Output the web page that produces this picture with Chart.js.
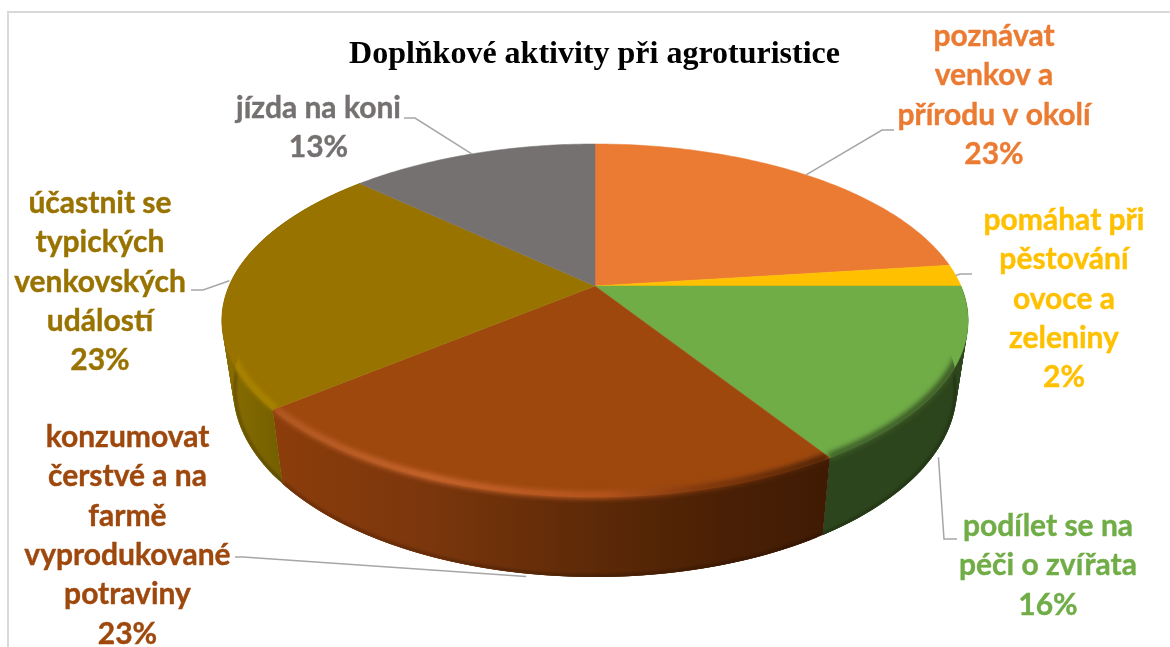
<!DOCTYPE html>
<html lang="cs">
<head>
<meta charset="utf-8">
<title>Doplňkové aktivity při agroturistice</title>
<script src="https://cdn.jsdelivr.net/npm/chart.js@4"></script>
<style>
    html, body { margin: 0; padding: 0; background: #fff; overflow: hidden; }
    #chart-wrap { width: 1170px; height: 647px; }
</style>
</head>
<body>
<div id="chart-wrap"><canvas id="pie-chart" width="1170" height="647"></canvas></div>
<script>
// Data
const categories = [
    'poznávat venkov a přírodu v okolí',
    'pomáhat při pěstování ovoce a zeleniny',
    'podílet se na péči o zvířata',
    'konzumovat čerstvé a na farmě vyprodukované potraviny',
    'účastnit se typických venkovských událostí',
    'jízda na koni'
];
const shares = [23, 2, 16, 23, 23, 13];
const sliceColors = ['#EB7B32', '#FFC000', '#70AD47', '#9E480E', '#997300', '#767171'];
const chartTitle = 'Doplňkové aktivity při agroturistice';

// Wrapped label text, one list per category
const labelLines = [
    ['poznávat', 'venkov a', 'přírodu v okolí'],
    ['pomáhat při', 'pěstování', 'ovoce a', 'zeleniny'],
    ['podílet se na', 'péči o zvířata'],
    ['konzumovat', 'čerstvé a na', 'farmě', 'vyprodukované', 'potraviny'],
    ['účastnit se', 'typických', 'venkovských', 'událostí'],
    ['jízda na koni']
];

// Label placement: centre x, first baseline, leader anchor plane + nudge, leader elbow + end
const labelLayout = [
    { x: 994, y: 46, plane: 'top', nudge: [0, 0], leader: [[882, 130], [894, 130]] },
    { x: 1064, y: 230, plane: 'top', nudge: [0, 0], leader: [[960, 274], [972, 274]] },
    { x: 1048, y: 536, plane: 'bottom', nudge: [0, 9], leader: [[944, 539], [957, 539]] },
    { x: 127.5, y: 447, plane: 'bottom', nudge: [0, 3], leader: [[243, 557], [235, 557]] },
    { x: 100, y: 213, plane: 'top', nudge: [-2, 0], leader: [[203, 290], [191, 290]] },
    { x: 318.5, y: 118, plane: 'top', nudge: [0, 0], leader: [[415, 118], [404, 118]] }
];

// Perspective of the disc: the slices meet at (cx, cy), near edge is drawn larger
const PERSPECTIVE = 0.1955;
const topPlane = { cx: 595, cy: 286, r: 366, a: 169.8 };
const bottomPlane = { cx: 595, cy: 352, r: 355, a: 181 };

// Side wall shading by x position
const wallStops = {
    2: [[826, '#2D451C'], [965, '#2D451C']],
    3: [[275, '#8C3D0B'], [430, '#7A360C'], [600, '#5C2907'], [720, '#4A2005'], [826, '#401B04']],
    4: [[222, '#8A6D00'], [280, '#746000']]
};

// Bevelled rim on the top face
const rimStops = {
    2: { stops: [[826, '#3F5F29'], [965, '#3A5625']], width: 7, blur: 2.5, inset: 0.995, from: 100 },
    3: { stops: [[275, '#B35A24'], [430, '#C8662E'], [600, '#B8561F'], [700, '#7E370C'], [826, '#4A2106']], width: 7, blur: 2.5, inset: 0.993 },
    4: { stops: [[222, '#A88300'], [280, '#A88300']], width: 7, blur: 2, inset: 0.992, upTo: 300 }
};

// Turn an angle (radians, clockwise from 12 o'clock) into a point on a plane
function project(theta, plane, scale) {
    const u = Math.sin(theta) * (scale || 1);
    const v = -Math.cos(theta) * (scale || 1);
    const s = 1 / (1 - PERSPECTIVE * v);
    return [plane.cx + plane.r * u * s, plane.cy + plane.a * v * s];
}

function sampleArc(from, to, plane, scale) {
    const points = [];
    const steps = Math.max(2, Math.ceil(Math.abs(to - from) / (Math.PI / 180)));
    for (let i = 0; i <= steps; i++) {
        points.push(project(from + (to - from) * i / steps, plane, scale));
    }
    return points;
}

function tracePolygon(ctx, points) {
    ctx.beginPath();
    points.forEach((p, i) => i ? ctx.lineTo(p[0], p[1]) : ctx.moveTo(p[0], p[1]));
    ctx.closePath();
}

function makeGradient(ctx, stops) {
    const x0 = stops[0][0];
    const x1 = stops[stops.length - 1][0];
    const gradient = ctx.createLinearGradient(x0, 0, x1, 0);
    stops.forEach(s => gradient.addColorStop((s[0] - x0) / (x1 - x0), s[1]));
    return gradient;
}

// Draws the slices from the pie arcs, so angles come from Chart.js
const pie3dPlugin = {
    id: 'pie3d',
    beforeDatasetsDraw(chart) {
        const ctx = chart.ctx;
        const arcs = chart.getDatasetMeta(0).data;
        const angles = arcs.map(arc => [arc.startAngle + Math.PI / 2, arc.endAngle + Math.PI / 2]);

        // Chart frame
        ctx.save();
        ctx.strokeStyle = '#D9D9D9';
        ctx.lineWidth = 2;
        ctx.beginPath();
        ctx.moveTo(8, 647);
        ctx.lineTo(8, 12);
        ctx.lineTo(1170, 12);
        ctx.stroke();
        ctx.restore();

        // Side walls first, the top face covers the far part
        angles.forEach((range, i) => {
            if (!wallStops[i]) return;
            const top = sampleArc(range[0], range[1], topPlane);
            const bottom = sampleArc(range[0], range[1], bottomPlane);
            ctx.fillStyle = makeGradient(ctx, wallStops[i]);
            // One overlapping quad per sample, so the outline follows the tangent between both rims
            for (let n = 0; n < top.length - 1; n++) {
                const next = Math.min(n + 3, top.length - 1);
                tracePolygon(ctx, [top[n], top[next], bottom[next], bottom[n]]);
                ctx.fill();
            }
            // Slightly darker foot of the wall
            ctx.save();
            tracePolygon(ctx, top.concat(bottom.slice().reverse()));
            ctx.clip();
            ctx.filter = 'blur(1px)';
            ctx.strokeStyle = 'rgba(0,0,0,0.22)';
            ctx.lineWidth = 3;
            ctx.beginPath();
            sampleArc(range[0], range[1], bottomPlane, 0.995).forEach((p, n) => n ? ctx.lineTo(p[0], p[1]) : ctx.moveTo(p[0], p[1]));
            ctx.stroke();
            ctx.restore();
        });

        // Top face
        angles.forEach((range, i) => {
            const outline = [[topPlane.cx, topPlane.cy]].concat(sampleArc(range[0], range[1], topPlane));
            tracePolygon(ctx, outline);
            ctx.fillStyle = sliceColors[i];
            ctx.strokeStyle = sliceColors[i];
            ctx.lineWidth = 0.5;
            ctx.fill();
            ctx.stroke();
        });

        // Rim highlight and shadow, kept inside its own slice and wall
        angles.forEach((range, i) => {
            const rim = rimStops[i];
            if (!rim) return;
            const clip = [[topPlane.cx, topPlane.cy]]
                .concat([project(range[0], topPlane)])
                .concat(sampleArc(range[0], range[1], bottomPlane))
                .concat([project(range[1], topPlane)]);
            const start = rim.from ? rim.from * Math.PI / 180 : range[0];
            const end = rim.upTo ? rim.upTo * Math.PI / 180 : range[1];
            ctx.save();
            tracePolygon(ctx, clip);
            ctx.clip();
            ctx.filter = 'blur(' + rim.blur + 'px)';
            ctx.strokeStyle = makeGradient(ctx, rim.stops);
            ctx.lineWidth = rim.width;
            ctx.beginPath();
            sampleArc(start, end, topPlane, rim.inset).forEach((p, n) => n ? ctx.lineTo(p[0], p[1]) : ctx.moveTo(p[0], p[1]));
            ctx.stroke();
            ctx.restore();
        });

        // Leader lines and labels
        angles.forEach((range, i) => {
            const layout = labelLayout[i];
            const mid = (range[0] + range[1]) / 2;
            const anchor = project(mid, layout.plane === 'top' ? topPlane : bottomPlane);
            ctx.save();
            ctx.strokeStyle = '#A6A6A6';
            ctx.lineWidth = 1.5;
            ctx.beginPath();
            ctx.moveTo(anchor[0] + layout.nudge[0], anchor[1] + layout.nudge[1]);
            layout.leader.forEach(p => ctx.lineTo(p[0], p[1]));
            ctx.stroke();

            ctx.fillStyle = sliceColors[i];
            ctx.strokeStyle = sliceColors[i];
            ctx.lineWidth = 0.4;
            ctx.font = 'bold 30px Lato, Carlito, sans-serif';
            ctx.textAlign = 'center';
            ctx.textBaseline = 'alphabetic';
            const lines = labelLines[i].concat([shares[i] + '%']);
            lines.forEach((line, n) => {
                ctx.fillText(line, layout.x, layout.y + n * 39.3);
                ctx.strokeText(line, layout.x, layout.y + n * 39.3);
            });
            ctx.restore();
        });

        return false; // the flat arcs are replaced by the drawing above
    }
};

const pieCtx = document.getElementById('pie-chart').getContext('2d');
new Chart(pieCtx, {
    type: 'pie',
    data: {
        labels: categories,
        datasets: [{
            data: shares,
            backgroundColor: sliceColors
        }]
    },
    options: {
        responsive: false,
        animation: false,
        layout: { padding: { left: 19 } },
        plugins: {
            legend: { display: false },
            tooltip: { enabled: false },
            title: {
                display: true,
                text: chartTitle,
                color: '#000',
                font: { family: '"Liberation Serif", serif', size: 32, weight: 'bold' },
                padding: { top: 36, bottom: 8 }
            }
        }
    },
    plugins: [pie3dPlugin]
});
</script>
</body>
</html>
